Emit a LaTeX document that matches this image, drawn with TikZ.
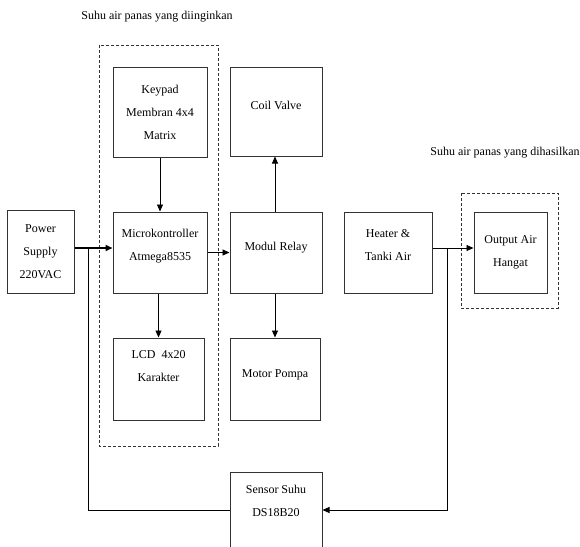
\documentclass[tikz,border=0pt]{standalone}
\usepackage{fontspec}
\setmainfont{Liberation Serif}
\usetikzlibrary{arrows.meta}

\begin{document}
\begin{tikzpicture}[x=1pt,y=-1pt,
		box/.style={draw=black!80,line width=1pt,align=center,inner sep=2pt,
			font=\fontsize{12}{23}\selectfont},
		arr/.style={-{Triangle[length=7pt,width=6pt]},line width=0.9pt},
		wire/.style={line width=0.9pt},
		group/.style={draw=black!80,line width=0.9pt,dash pattern=on 3pt off 2pt}]
			\useasboundingbox (0,0) rectangle (580,546);
			% blocks
			\node[box,minimum width=94,minimum height=90] (keypad) at (160,112) {Keypad\\Membran 4x4\\Matrix};
			\node[box,minimum width=92,minimum height=89,text depth=13pt] (coil) at (276,111.5) {Coil Valve};
			\node[box,minimum width=67,minimum height=83] (power) at (40.5,251.5) {Power\\Supply\\220VAC};
			\node[box,minimum width=94,minimum height=81,text depth=15pt] (micro) at (160,252.5) {Microkontroller\\Atmega8535};
			\node[box,minimum width=92,minimum height=81,text depth=13pt] (relay) at (276,252.5) {Modul Relay};
			\node[box,minimum width=88,minimum height=81,text depth=15pt] (heater) at (388,252.5) {Heater \&\\Tanki Air};
			\node[box,minimum width=73,minimum height=81] (output) at (510.5,252.5) {Output Air\\Hangat};
			\node[box,minimum width=91,minimum height=82,text depth=25pt] (lcd) at (158.5,379) {LCD\ \ 4x20\\Karakter};
			\node[box,minimum width=90,minimum height=82,text depth=11pt] (motor) at (275,379) {Motor Pompa};
			\node[box,minimum width=92,minimum height=76,text depth=18pt] (sensor) at (276,510) {Sensor Suhu\\DS18B20};
			% dashed groups
			\draw[group] (99,45) rectangle (218,446);
			\draw[group] (461,193) rectangle (558,308);
			\node[font=\fontsize{12}{14}\selectfont] (setlabel) at (157,17) {Suhu air panas yang diinginkan};
			\node[font=\fontsize{12}{14}\selectfont] (outlabel) at (505,153) {Suhu air panas yang dihasilkan};
			% taps for the feedback loop
			\coordinate (tapL) at (88,248);
			\coordinate (tapR) at (447,248);
			% connections
			\draw[arr,line width=1.6pt] (power.east |- tapL) -- (micro.west |- tapL);
			\draw[arr] (micro.east) -- (relay.west);
			\draw[arr] (heater.east |- tapR) -- (output.west |- tapR);
			\draw[arr] (keypad.south) -- (micro.north);
			\draw[arr] (micro.south -| lcd.north) -- (lcd.north);
			\draw[arr] (relay.north -| 275,0) -- (coil.south -| 275,0);
			\draw[arr] (relay.south -| motor.north) -- (motor.north);
			\draw[wire] (tapL) |- (sensor.west);
			\draw[arr] (tapR) |- (sensor.east);
		\end{tikzpicture}
\end{document}
